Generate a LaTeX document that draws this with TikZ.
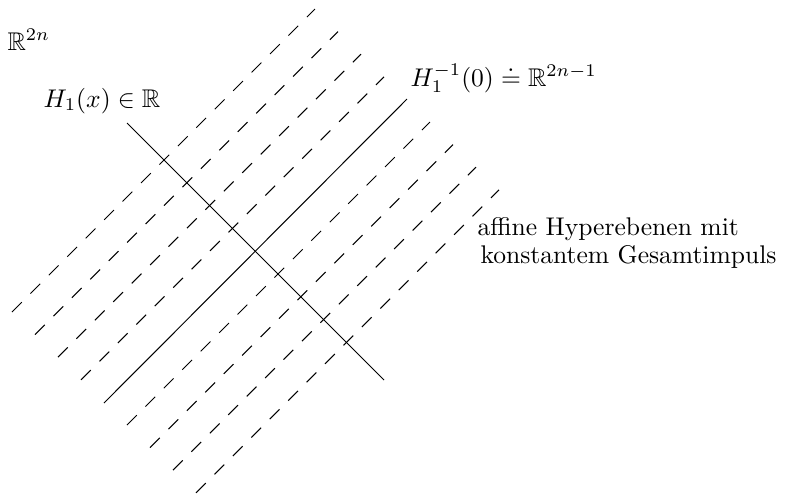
\documentclass[tikz,border=0pt]{standalone}
\usepackage{amsmath,amssymb}
\usetikzlibrary{positioning}
\tikzset{
  hplane/.style={dash pattern=on 5.4pt off 4.8pt},
  lbl/.style={inner sep=0pt,anchor=base west}
}

\begin{document}
\begin{tikzpicture}[x=0.3913pt,y=-0.3913pt]
  \useasboundingbox (0,0) rectangle (788,493);
  % Niveauflaechen von H_1
  \foreach \k in {0,1,2,3,5,6,7,8}
    \draw[hplane] (12+23*\k,312+22.6*\k) -- (315+23*\k,9+22.6*\k);
  \coordinate (zlo) at (104,403); \coordinate (zhi) at (407,99);
  \draw (zlo) -- (zhi);
  \coordinate (hlo) at (127,123); \coordinate (hhi) at (384,380);
  \draw (hlo) -- (hhi);
  % Beschriftungen
  \node[lbl] (rn) at (7,50) {$\mathbb{R}^{2n}$};
  \node[lbl] (hx) at (43,107) {$H_1(x)\in\mathbb{R}$};
  \node[lbl] (hnull) at (410,86) {$H_1^{-1}(0)\doteq\mathbb{R}^{2n-1}$};
  \node[lbl,align=left] (affin) at (477,263) {affine Hyperebenen mit\\[-1.3pt]\hspace{1.2pt}konstantem Gesamtimpuls};
\end{tikzpicture}
\end{document}
